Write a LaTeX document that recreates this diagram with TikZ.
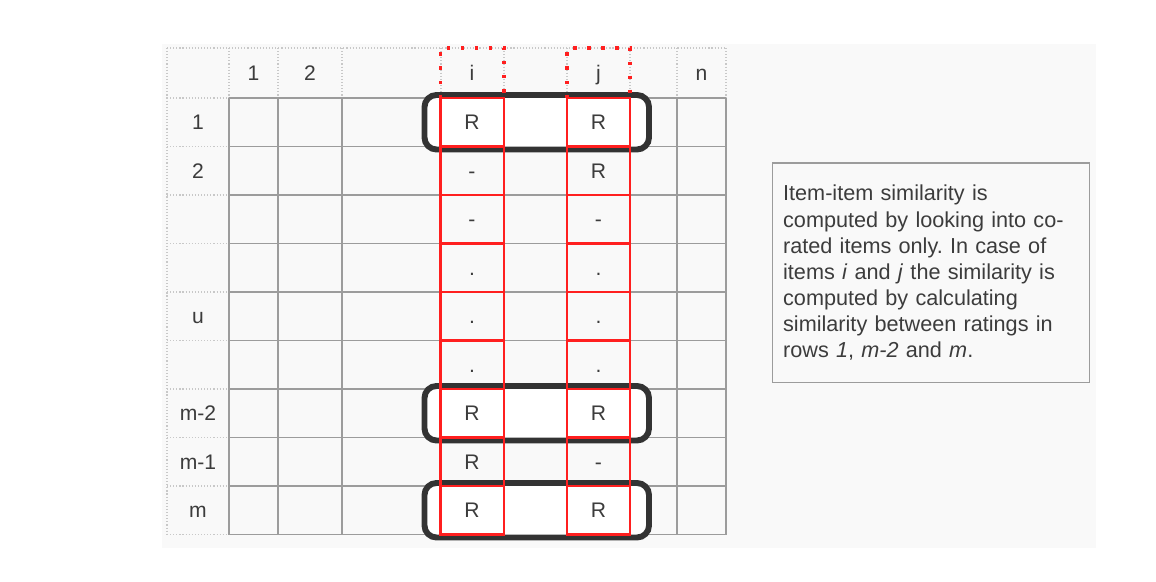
\documentclass[tikz,border=0pt]{standalone}
\usepackage{fontspec}
\setmainfont{Liberation Sans}
\frenchspacing

\definecolor{bggray}{HTML}{F9F9F9}
\definecolor{gridgray}{HTML}{9C9C9C}
\definecolor{dotgray}{HTML}{C8C8C8}
\definecolor{markred}{HTML}{FF1F1F}
\definecolor{boxdark}{HTML}{333333}
\definecolor{txtgray}{HTML}{3C3C3C}

\begin{document}
\begin{tikzpicture}[x=0.025cm, y=-0.025cm,
    lbl/.style={font=\fontsize{15}{18}\selectfont, text=txtgray, inner sep=0pt, anchor=base},
    gridline/.style={draw=gridgray, line width=0.9pt},
    hdrdots/.style={draw=dotgray, line width=0.8pt, dash pattern=on 0.8pt off 1.4pt},
    reddots/.style={draw=markred, line width=2.6pt, dash pattern=on 2.4pt off 7.6pt},
    redline/.style={draw=markred, line width=1.6pt},
    rowbox/.style={draw=boxdark, fill=white, line width=4.2pt, rounded corners=8.5pt},
    notebox/.style={draw=gridgray, line width=0.9pt, fill=bggray, text=txtgray, align=left,
        text width=7.375cm, inner xsep=0.275cm, minimum height=5.49cm,
        font=\fontsize{15.4}{18.6}\selectfont}]
    \useasboundingbox (0,0) rectangle (1156,582);
    % Background
    \fill[bggray] (162,44) rectangle (1096,548);

    % Header (dotted)
    \draw[hdrdots] (167,48) -- (726,48);
    \draw[hdrdots] (167,48) -- (167,534.5);
    \foreach \x in {229,278,342,441,504,567,630,677,726}
        \draw[hdrdots] (\x,48) -- (\x,98);
    \foreach \y in {98,146.5,195,243.5,292,340.5,389,437.5,486,534.5}
        \draw[hdrdots] (167,\y) -- (229,\y);

    % Grid
    \foreach \x in {229,278,342,441,504,567,630,677,726}
        \draw[gridline] (\x,98) -- (\x,534.5);
    \foreach \y in {98,146.5,195,243.5,292,340.5,389,437.5,486,534.5}
        \draw[gridline] (229,\y) -- (726,\y);

    % Co-rated rows
    \draw[rowbox] (424.5,95) rectangle (649,149.5);
    \draw[rowbox] (424.5,386) rectangle (649,440.5);
    \draw[rowbox] (424.5,483) rectangle (649,537.5);

    % Columns i and j
    \draw[reddots] (440.5,98) -- (440.5,48) -- (504,48) -- (504,98);
    \draw[reddots] (567,98) -- (567,48) -- (630,48) -- (630,98);
    \draw[redline] (440.5,98) rectangle (504,534.5);
    \draw[redline] (567,98) rectangle (630,534.5);
    \foreach \y in {146.5,195,243.5,292,340.5,389,437.5,486} {
        \draw[redline] (440.5,\y) -- (504,\y);
        \draw[redline] (567,\y) -- (630,\y);
    }

    % Column labels
    \node[lbl] (c1) at (253.5,80.5) {1};
    \node[lbl] (c2) at (310,80.5) {2};
    \node[lbl] (ci) at (472,80.5) {i};
    \node[lbl] (cj) at (598.5,80.5) {j};
    \node[lbl] (cn) at (701.5,80.5) {n};

    % Row labels
    \node[lbl] (r1) at (198,129.75) {1};
    \node[lbl] (r2) at (198,178.25) {2};
    \node[lbl] (ru) at (198,323.75) {u};
    \node[lbl] (rm2) at (198,420.75) {m-2};
    \node[lbl] (rm1) at (198,469.25) {m-1};
    \node[lbl] (rm) at (198,517.75) {m};

    % Ratings
    \foreach \k/\yb/\a/\b in {1/129.75/R/R, 2/178.25/-/R, 3/226.75/-/-, 4/275.25/./.,
        5/323.75/./., 6/372.25/./., 7/420.75/R/R, 8/469.25/R/-, 9/517.75/R/R} {
        \node[lbl] (i\k) at (472,\yb) {\a};
        \node[lbl] (j\k) at (598.5,\yb) {\b};
    }

    % Note
    \node (note) [notebox, anchor=north west] at (771.5,162.5)
        {Item-item similarity is\\
         computed by looking into co-\\
         rated items only. In case of\\
         items \textit{i} and \textit{j} the similarity is\\
         computed by calculating\\
         similarity between ratings in\\
         rows \textit{1}, \textit{m-2} and \textit{m}.};
\end{tikzpicture}
\end{document}
